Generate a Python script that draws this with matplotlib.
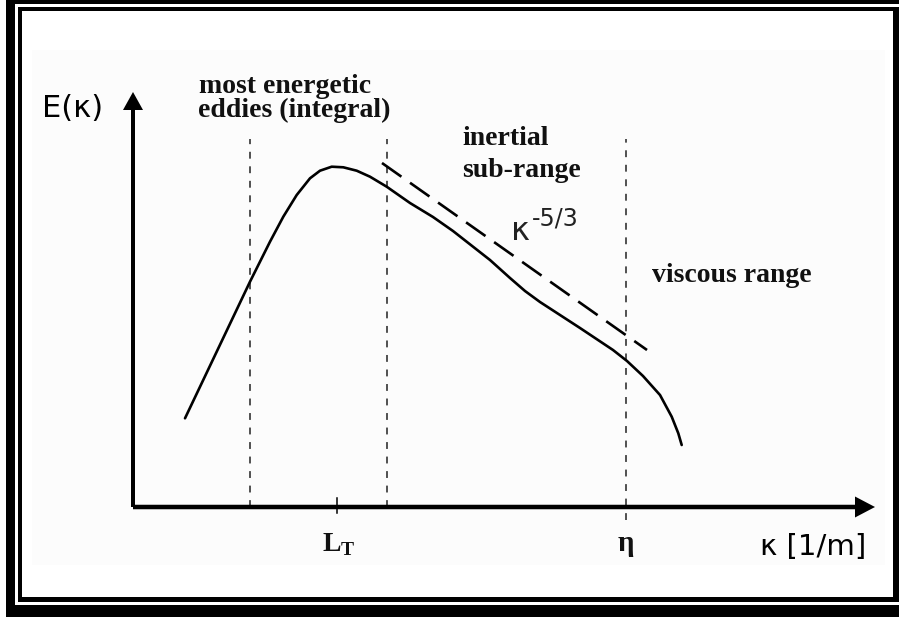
import matplotlib

matplotlib.use("Agg")

import matplotlib.pyplot as plt
from matplotlib.patches import Rectangle

# Schematic energy spectrum, coordinates in pixel-like units with the
# axis corner at the origin.
CURVE_K = [52, 83.7, 117, 137, 150.3, 163.7, 177, 187, 198.7, 210.3, 223.7,
           237, 253.7, 277, 300, 320, 357, 377, 392, 407, 427, 447, 480,
           494, 510, 527, 538.7, 545.3, 548.7]
CURVE_E = [88.7, 155.3, 225.3, 265.3, 290.3, 312, 328.7, 336.3, 340.3, 339.7,
           336.3, 330.3, 320.3, 304, 290, 276, 247, 229, 216, 205, 192, 179,
           157, 146, 131, 112, 90.3, 73.7, 62]

SLOPE_K = [249, 514]
SLOPE_E = [344, 157]

DIVIDER_K = [117, 254, 493]
DIVIDER_TOP = 368
DIVIDER_BOTTOM = [0, 0, -13]

LT_K = 204
ETA_K = 493

X_AXIS_END = 742
Y_AXIS_END = 415

# figure pixels: x = k + 133, y = 507 - E
X0, Y0 = 133, 507
FIG_W, FIG_H = 899, 617

SERIF = dict(family="Liberation Serif", weight="bold", color="#111111")

plt.rcParams["font.family"] = ["DejaVu Sans"]
plt.rcParams["mathtext.fontset"] = "custom"
plt.rcParams["mathtext.bf"] = "Liberation Serif:bold"
plt.rcParams["mathtext.rm"] = "Liberation Serif"


def px_rect(ax, x1, y1, x2, y2, color, z):
    ax.add_patch(Rectangle((x1 - X0, Y0 - y2), x2 - x1, y2 - y1,
                           facecolor=color, edgecolor="none", zorder=z))


fig = plt.figure(figsize=(FIG_W / 100, FIG_H / 100), dpi=100)
ax = fig.add_axes([0, 0, 1, 1])
ax.set_xlim(-X0, FIG_W - X0)
ax.set_ylim(Y0 - FIG_H, Y0)
ax.axis("off")

# double frame
px_rect(ax, 6, -20, 920, 640, "black", 0)
px_rect(ax, 15, 4, 920, 605, "white", 0.1)
px_rect(ax, 18, 7, 920, 602, "black", 0.2)
px_rect(ax, 22, 11, 893, 597, "white", 0.3)
px_rect(ax, 32, 50, 885, 565, "#fcfcfc", 0.4)

# axes with arrows
ax.arrow(0, 0, X_AXIS_END, 0, width=4.5, head_width=21, head_length=20,
         length_includes_head=True, fc="black", ec="none", zorder=5)
ax.arrow(0, 0, 0, Y_AXIS_END, width=4, head_width=20, head_length=18,
         length_includes_head=True, fc="black", ec="none", zorder=5)

# dashed range dividers
for k, bottom in zip(DIVIDER_K, DIVIDER_BOTTOM):
    ax.plot([k, k], [bottom, DIVIDER_TOP], color="#222222", lw=1.1,
            linestyle=(0, (4.5, 5)), zorder=2)

ax.plot([LT_K, LT_K], [-6, 9], color="black", lw=1.1, zorder=6)

# spectrum and -5/3 slope
ax.plot(CURVE_K, CURVE_E, color="black", lw=1.9, solid_capstyle="round",
        solid_joinstyle="round", zorder=4)
ax.plot(SLOPE_K, SLOPE_E, color="black", lw=1.9, linestyle=(0, (9, 4)),
        zorder=4)

# labels
ax.text(-91, 390, "E(κ)", fontsize=22, ha="left", va="baseline")
ax.text(66, 414, "most energetic", fontsize=20, ha="left", va="baseline", **SERIF)
ax.text(65, 390, "eddies (integral)", fontsize=20, ha="left", va="baseline", **SERIF)
ax.text(329, 362, "inertial", fontsize=20, ha="left", va="baseline", **SERIF)
ax.text(329, 330, "sub-range", fontsize=20, ha="left", va="baseline", **SERIF)
ax.text(378, 267, "κ", fontsize=23, ha="left", va="baseline", color="#222222")
ax.text(399, 282, "-5/3", fontsize=17, ha="left", va="baseline", color="#222222")
ax.text(519, 225, "viscous range", fontsize=20, ha="left", va="baseline", **SERIF)
ax.text(LT_K + 2, -44, r"$\mathbf{L}_\mathbf{T}$", fontsize=20, ha="center",
        va="baseline", color="#111111")
ax.text(ETA_K, -44, "η", fontsize=21, ha="center", va="baseline", **SERIF)
ax.text(627, -48, "κ [1/m]", fontsize=21, ha="left", va="baseline")

fig.savefig("out.png", dpi=100)
plt.close(fig)
